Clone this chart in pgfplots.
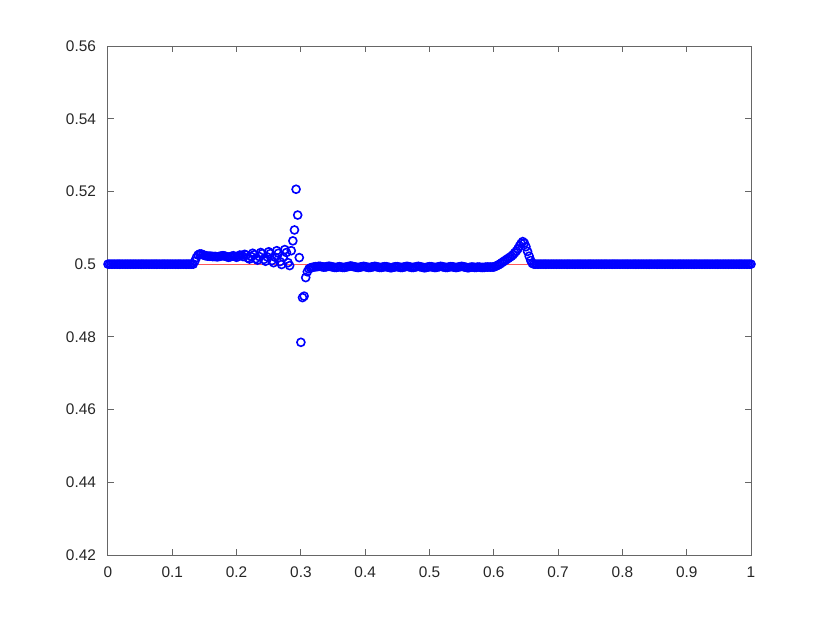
\documentclass[border=0pt]{standalone}
\usepackage{fontspec}
\setmainfont{Liberation Sans}
\usepackage{pgfplots}
\pgfplotsset{compat=1.18}
\definecolor{axgray}{rgb}{0.15,0.15,0.15}
\begin{document}
\begin{tikzpicture}
\begin{axis}[
  scale only axis,
  width=321.5pt, height=254.5pt,
  xmin=0, xmax=1, ymin=0.42, ymax=0.56,
  xtick={0,0.1,0.2,0.3,0.4,0.5,0.6,0.7,0.8,0.9,1},
  xticklabels={0,0.1,0.2,0.3,0.4,0.5,0.6,0.7,0.8,0.9,1},
  ytick={0.42,0.44,0.46,0.48,0.5,0.52,0.54,0.56},
  yticklabels={0.42,0.44,0.46,0.48,0.5,0.52,0.54,0.56},
  tick align=inside,
  major tick length=3pt,
  axis line style={black!60, line width=0.5pt},
  every tick/.style={black!60, line width=0.5pt},
  tick label style={font=\fontsize{7.7}{9}\selectfont, text=axgray},
  yticklabel style={xshift=-2.5pt},
  xticklabel style={yshift=-2.5pt},
  /pgf/number format/assume math mode=true,
  clip=false,
]
\addplot[only marks, mark=o, mark size=2pt, blue, mark options={line width=0.8pt}] coordinates {
(0,0.5)(0.0025,0.5)(0.005,0.5)(0.0075,0.5)(0.01,0.5)(0.0125,0.5)(0.015,0.5)(0.0175,0.5)
(0.02,0.5)(0.0225,0.5)(0.025,0.5)(0.0275,0.5)(0.03,0.5)(0.0325,0.5)(0.035,0.5)(0.0375,0.5)
(0.04,0.5)(0.0425,0.5)(0.045,0.5)(0.0475,0.5)(0.05,0.5)(0.0525,0.5)(0.055,0.5)(0.0575,0.5)
(0.06,0.5)(0.0625,0.5)(0.065,0.5)(0.0675,0.5)(0.07,0.5)(0.0725,0.5)(0.075,0.5)(0.0775,0.5)
(0.08,0.5)(0.0825,0.5)(0.085,0.5)(0.0875,0.5)(0.09,0.5)(0.0925,0.5)(0.095,0.5)(0.0975,0.5)
(0.1,0.5)(0.1025,0.5)(0.105,0.5)(0.1075,0.5)(0.11,0.5)(0.1125,0.5)(0.115,0.5)(0.1175,0.5)
(0.12,0.5)(0.1225,0.5)(0.125,0.5)(0.1275,0.5)(0.13,0.5)(0.1325,0.5)
(0.135,0.5008)(0.1375,0.5018)(0.14,0.5025)(0.1425,0.5028)(0.145,0.5028)(0.1475,0.5026)(0.15,0.5024)(0.1525,0.5023)
(0.155,0.5022)(0.1575,0.5022)(0.16,0.5022)(0.1625,0.5021)(0.165,0.5021)(0.1675,0.5021)(0.17,0.5020)(0.1725,0.5021)
(0.175,0.5022)(0.1775,0.5023)(0.18,0.5023)(0.1825,0.5022)(0.185,0.5020)(0.1875,0.5019)(0.19,0.5020)(0.1925,0.5022)
(0.195,0.5023)(0.1975,0.5021)(0.2,0.5019)(0.2025,0.5021)(0.205,0.5025)(0.2075,0.5024)
(0.21,0.5021)(0.2125,0.5027)(0.215,0.5025)(0.2175,0.5017)(0.22,0.5014)(0.2225,0.5021)(0.225,0.5030)(0.2275,0.5026)
(0.23,0.5015)(0.2325,0.5011)(0.235,0.5021)(0.2375,0.5032)(0.24,0.5029)(0.2425,0.5013)(0.245,0.5008)(0.2475,0.5020)
(0.25,0.5034)(0.2525,0.5029)(0.255,0.5010)(0.2575,0.5004)(0.26,0.5019)(0.2625,0.5037)(0.265,0.5030)(0.2675,0.5007)
(0.27,0.4999)(0.2725,0.5019)(0.275,0.5040)(0.2775,0.5032)(0.28,0.5004)(0.2825,0.4996)
(0.285,0.5037)(0.2875,0.5064)(0.29,0.5094)(0.2925,0.5206)(0.295,0.5135)(0.2975,0.5018)(0.3,0.4785)(0.3025,0.4908)
(0.305,0.4912)(0.3075,0.4963)(0.31,0.4979)(0.3125,0.4987)(0.315,0.4990)(0.3175,0.4991)
(0.32,0.4992)(0.3225,0.4993)(0.325,0.4993)(0.3275,0.4994)(0.33,0.4994)(0.3325,0.4993)(0.335,0.4992)(0.3375,0.4992)
(0.34,0.4993)(0.3425,0.4994)(0.345,0.4994)(0.3475,0.4993)(0.35,0.4992)(0.3525,0.4991)(0.355,0.4991)(0.3575,0.4992)
(0.36,0.4993)(0.3625,0.4992)(0.365,0.4991)(0.3675,0.4991)(0.37,0.4992)(0.3725,0.4993)(0.375,0.4994)(0.3775,0.4995)
(0.38,0.4994)(0.3825,0.4993)(0.385,0.4992)(0.3875,0.4991)(0.39,0.4991)(0.3925,0.4992)(0.395,0.4993)(0.3975,0.4994)
(0.4,0.4993)(0.4025,0.4992)(0.405,0.4991)(0.4075,0.4991)(0.41,0.4992)(0.4125,0.4993)(0.415,0.4994)(0.4175,0.4993)
(0.42,0.4992)(0.4225,0.4991)(0.425,0.4991)(0.4275,0.4992)(0.43,0.4993)(0.4325,0.4993)(0.435,0.4992)(0.4375,0.4991)
(0.44,0.4990)(0.4425,0.4991)(0.445,0.4992)(0.4475,0.4993)(0.45,0.4993)(0.4525,0.4992)(0.455,0.4991)(0.4575,0.4991)
(0.46,0.4992)(0.4625,0.4993)(0.465,0.4994)(0.4675,0.4993)(0.47,0.4992)(0.4725,0.4991)(0.475,0.4991)(0.4775,0.4992)
(0.48,0.4993)(0.4825,0.4994)(0.485,0.4993)(0.4875,0.4992)(0.49,0.4991)(0.4925,0.4990)(0.495,0.4991)(0.4975,0.4992)
(0.5,0.4993)(0.5025,0.4993)(0.505,0.4992)(0.5075,0.4991)(0.51,0.4991)(0.5125,0.4992)(0.515,0.4993)(0.5175,0.4994)
(0.52,0.4993)(0.5225,0.4992)(0.525,0.4991)(0.5275,0.4991)(0.53,0.4992)(0.5325,0.4993)(0.535,0.4993)(0.5375,0.4992)
(0.54,0.4991)(0.5425,0.4991)(0.545,0.4992)(0.5475,0.4993)(0.55,0.4994)(0.5525,0.4993)(0.555,0.4992)(0.5575,0.4991)
(0.56,0.4990)(0.5625,0.4991)(0.565,0.4992)(0.5675,0.4992)(0.57,0.4991)(0.5725,0.4991)(0.575,0.4992)(0.5775,0.4992)
(0.58,0.4991)(0.5825,0.4991)(0.585,0.4991)(0.5875,0.4992)(0.59,0.4992)(0.5925,0.4992)(0.595,0.4992)(0.5975,0.4992)
(0.6,0.4992)(0.6025,0.4994)(0.605,0.4996)(0.6075,0.4998)(0.61,0.5001)(0.6125,0.5004)(0.615,0.5007)(0.6175,0.5010)
(0.62,0.5013)(0.6225,0.5016)(0.625,0.5019)(0.6275,0.5022)(0.63,0.5026)(0.6325,0.5031)(0.635,0.5036)(0.6375,0.5042)
(0.64,0.5050)(0.6425,0.5057)(0.645,0.5062)(0.6475,0.5058)(0.65,0.5048)(0.6525,0.5035)(0.655,0.5022)(0.6575,0.5010)
(0.66,0.5002)(0.6625,0.5000)
(0.665,0.5)(0.6675,0.5)(0.67,0.5)(0.6725,0.5)(0.675,0.5)(0.6775,0.5)
(0.68,0.5)(0.6825,0.5)(0.685,0.5)(0.6875,0.5)(0.69,0.5)(0.6925,0.5)(0.695,0.5)(0.6975,0.5)
(0.7,0.5)(0.7025,0.5)(0.705,0.5)(0.7075,0.5)(0.71,0.5)(0.7125,0.5)(0.715,0.5)(0.7175,0.5)
(0.72,0.5)(0.7225,0.5)(0.725,0.5)(0.7275,0.5)(0.73,0.5)(0.7325,0.5)(0.735,0.5)(0.7375,0.5)
(0.74,0.5)(0.7425,0.5)(0.745,0.5)(0.7475,0.5)(0.75,0.5)(0.7525,0.5)(0.755,0.5)(0.7575,0.5)
(0.76,0.5)(0.7625,0.5)(0.765,0.5)(0.7675,0.5)(0.77,0.5)(0.7725,0.5)(0.775,0.5)(0.7775,0.5)
(0.78,0.5)(0.7825,0.5)(0.785,0.5)(0.7875,0.5)(0.79,0.5)(0.7925,0.5)(0.795,0.5)(0.7975,0.5)
(0.8,0.5)(0.8025,0.5)(0.805,0.5)(0.8075,0.5)(0.81,0.5)(0.8125,0.5)(0.815,0.5)(0.8175,0.5)
(0.82,0.5)(0.8225,0.5)(0.825,0.5)(0.8275,0.5)(0.83,0.5)(0.8325,0.5)(0.835,0.5)(0.8375,0.5)
(0.84,0.5)(0.8425,0.5)(0.845,0.5)(0.8475,0.5)(0.85,0.5)(0.8525,0.5)(0.855,0.5)(0.8575,0.5)
(0.86,0.5)(0.8625,0.5)(0.865,0.5)(0.8675,0.5)(0.87,0.5)(0.8725,0.5)(0.875,0.5)(0.8775,0.5)
(0.88,0.5)(0.8825,0.5)(0.885,0.5)(0.8875,0.5)(0.89,0.5)(0.8925,0.5)(0.895,0.5)(0.8975,0.5)
(0.9,0.5)(0.9025,0.5)(0.905,0.5)(0.9075,0.5)(0.91,0.5)(0.9125,0.5)(0.915,0.5)(0.9175,0.5)
(0.92,0.5)(0.9225,0.5)(0.925,0.5)(0.9275,0.5)(0.93,0.5)(0.9325,0.5)(0.935,0.5)(0.9375,0.5)
(0.94,0.5)(0.9425,0.5)(0.945,0.5)(0.9475,0.5)(0.95,0.5)(0.9525,0.5)(0.955,0.5)(0.9575,0.5)
(0.96,0.5)(0.9625,0.5)(0.965,0.5)(0.9675,0.5)(0.97,0.5)(0.9725,0.5)(0.975,0.5)(0.9775,0.5)
(0.98,0.5)(0.9825,0.5)(0.985,0.5)(0.9875,0.5)(0.99,0.5)(0.9925,0.5)(0.995,0.5)(0.9975,0.5)
(1,0.5)
};
\addplot[no marks, color={rgb,1:red,1;green,0.35;blue,0.35}, line width=0.5pt] coordinates {(0,0.5)(1,0.5)};
\end{axis}
\path[use as bounding box] ([shift={(-54pt,-34pt)}]current axis.south west) rectangle ([shift={(39.5pt,23pt)}]current axis.north east);
\end{tikzpicture}
\end{document}
